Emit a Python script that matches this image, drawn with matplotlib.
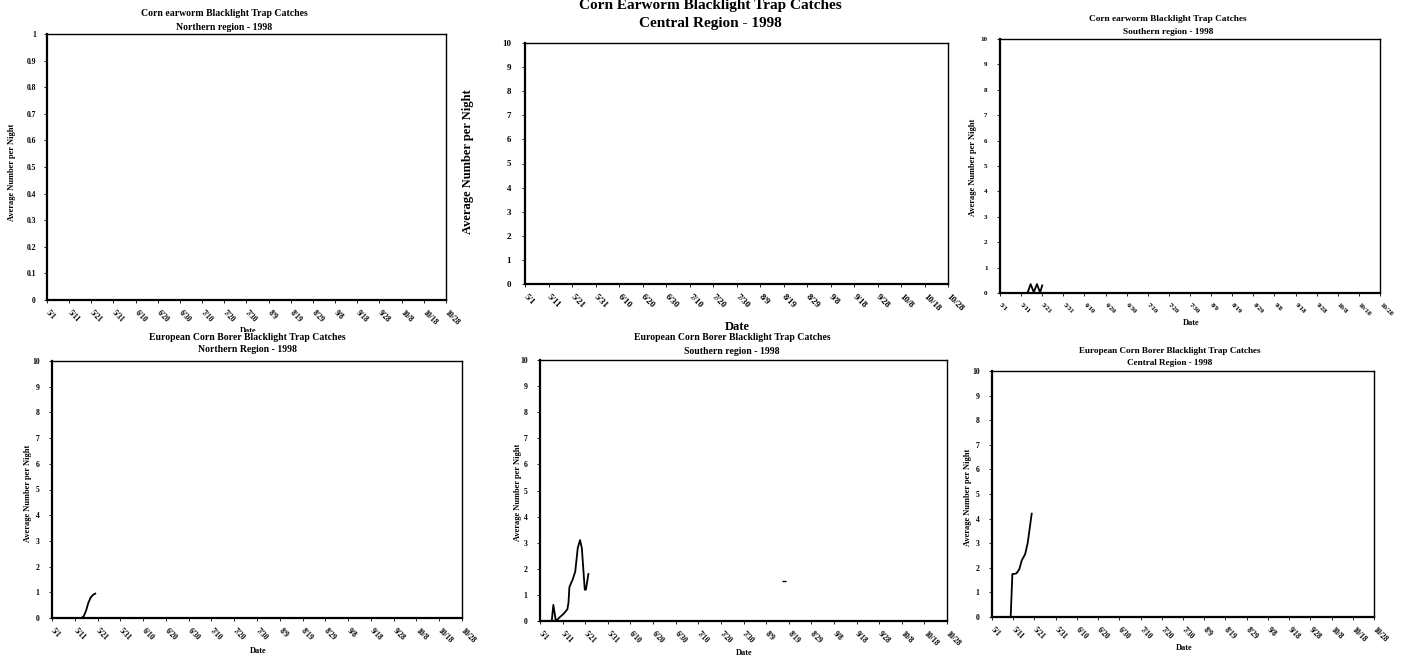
import numpy as np
import matplotlib
matplotlib.use("Agg")
import matplotlib.pyplot as plt

plt.rcParams['font.family'] = ['Liberation Serif', 'DejaVu Serif']
plt.rcParams['font.weight'] = 'bold'

W, H = 1401, 657

# x axis: days after May 1st, 1998
date_ticks = [0, 10, 20, 30, 40, 50, 60, 70, 80, 90, 100, 110, 120, 130, 140, 150, 160, 170, 180]
date_labels = ['5/1', '5/11', '5/21', '5/31', '6/10', '6/20', '6/30', '7/10', '7/20', '7/30',
               '8/9', '8/19', '8/29', '9/8', '9/18', '9/28', '10/8', '10/18', '10/28']

# corn earworm
cew_north_days = []
cew_north_vals = []
cew_central_days = []
cew_central_vals = []
cew_south_days = [13, 14.5, 16, 17.5, 19, 20]
cew_south_vals = [0, 0.35, 0.03, 0.35, 0.02, 0.3]

# european corn borer
ecb_north_days = [0, 13, 14, 15, 16, 17, 18, 19]
ecb_north_vals = [0, 0, 0.08, 0.3, 0.6, 0.8, 0.9, 0.95]
ecb_south_days = [0, 5.2, 5.9, 7, 8.8, 10.5, 12.1, 12.6, 13, 14.5, 15.6, 16.7, 17.7, 18.5, 19.8, 20.3, 21.4]
ecb_south_vals = [0, 0, 0.62, 0, 0.15, 0.28, 0.45, 0.7, 1.3, 1.6, 1.9, 2.8, 3.1, 2.8, 1.2, 1.2, 1.8]
ecb_central_days = [0, 8.8, 9.6, 10.5, 11.6, 12.9, 14.0, 15.6, 16.8, 17.6, 18.7]
ecb_central_vals = [0, 0, 1.75, 1.75, 1.78, 1.95, 2.3, 2.55, 3.0, 3.5, 4.2]
ecb_south_stray_day = [108]
ecb_south_stray_val = [1.53]

fig = plt.figure(figsize=(W / 100, H / 100), dpi=100)


def panel(box, days, vals, ymax, ystep, tkfs, ypad):
    l, t, r, b = box
    ax = fig.add_axes([l / W, 1 - b / H, (r - l) / W, (b - t) / H])
    if len(days):
        ax.plot(days, vals, color='black', lw=1.3)
    ax.set_xlim(0, 180)
    ax.set_ylim(0, ymax)
    yt = np.arange(0, ymax + ystep / 2, ystep)
    ax.set_yticks(yt)
    if ystep < 1:
        ax.set_yticklabels(['0'] + ['%g' % round(v, 1) for v in yt[1:]], fontsize=tkfs)
    else:
        ax.set_yticklabels(['%d' % v for v in yt], fontsize=tkfs)
    ax.set_xticks(date_ticks)
    ax.set_xticklabels(date_labels, fontsize=tkfs, rotation=-45, ha='left', va='center',
                       rotation_mode='anchor')
    ax.tick_params(axis='x', length=2, width=0.6, pad=6)
    ax.tick_params(axis='y', length=2, width=0.6, pad=ypad)
    for s in ax.spines.values():
        s.set_linewidth(1.0)
    ax.spines['left'].set_linewidth(1.6)
    ax.spines['bottom'].set_linewidth(1.6)
    return ax


ax1 = panel((47, 34, 446, 300), cew_north_days, cew_north_vals, 1, 0.1, 5.5, 6)
fig.text(224 / W, 1 - 14 / H, 'Corn earworm Blacklight Trap Catches', fontsize=7, ha='center', va='center')
fig.text(224 / W, 1 - 27 / H, 'Northern region - 1998', fontsize=7, ha='center', va='center')
fig.text(12 / W, 1 - 172 / H, 'Average Number per Night', fontsize=6, rotation=90, ha='center', va='center')
fig.text(248 / W, 1 - 331 / H, 'Date', fontsize=6, ha='center', va='center')

ax2 = panel((525, 43, 948, 284), cew_central_days, cew_central_vals, 10, 1, 6.5, 8)
fig.text(710 / W, 1 - 6 / H, 'Corn Earworm Blacklight Trap Catches', fontsize=11, ha='center', va='center')
fig.text(710 / W, 1 - 23 / H, 'Central Region - 1998', fontsize=11, ha='center', va='center')
fig.text(468 / W, 1 - 162 / H, 'Average Number per Night', fontsize=9, rotation=90, ha='center', va='center')
fig.text(737 / W, 1 - 327 / H, 'Date', fontsize=9, ha='center', va='center')

ax3 = panel((1000, 39, 1380, 293), cew_south_days, cew_south_vals, 10, 1, 5, 7)
fig.text(1168 / W, 1 - 19 / H, 'Corn earworm Blacklight Trap Catches', fontsize=6.7, ha='center', va='center')
fig.text(1168 / W, 1 - 32 / H, 'Southern region - 1998', fontsize=6.7, ha='center', va='center')
fig.text(973 / W, 1 - 167 / H, 'Average Number per Night', fontsize=6, rotation=90, ha='center', va='center')
fig.text(1191 / W, 1 - 323 / H, 'Date', fontsize=6, ha='center', va='center')

ax4 = panel((52, 361, 462, 618), ecb_north_days, ecb_north_vals, 10, 1, 5.5, 7)
fig.text(247 / W, 1 - 337 / H, 'European Corn Borer Blacklight Trap Catches', fontsize=7, ha='center',
         va='center', bbox=dict(facecolor='white', edgecolor='none', pad=0.5))
fig.text(247 / W, 1 - 349 / H, 'Northern Region - 1998', fontsize=7, ha='center', va='center')
fig.text(28 / W, 1 - 493 / H, 'Average Number per Night', fontsize=6, rotation=90, ha='center', va='center')
fig.text(258 / W, 1 - 651 / H, 'Date', fontsize=6, ha='center', va='center')

ax5 = panel((540, 360, 947, 621), ecb_south_days, ecb_south_vals, 10, 1, 5.5, 7)
ax5.plot(ecb_south_stray_day, ecb_south_stray_val, marker='_', color='black', ms=3, lw=0)
fig.text(732 / W, 1 - 338 / H, 'European Corn Borer Blacklight Trap Catches', fontsize=7, ha='center',
         va='center', bbox=dict(facecolor='white', edgecolor='none', pad=0.5))
fig.text(732 / W, 1 - 351 / H, 'Southern region - 1998', fontsize=7, ha='center', va='center')
fig.text(518 / W, 1 - 492 / H, 'Average Number per Night', fontsize=6, rotation=90, ha='center', va='center')
fig.text(744 / W, 1 - 653 / H, 'Date', fontsize=6, ha='center', va='center')

ax6 = panel((992, 371, 1374, 617), ecb_central_days, ecb_central_vals, 10, 1, 5.5, 7)
fig.text(1170 / W, 1 - 351 / H, 'European Corn Borer Blacklight Trap Catches', fontsize=6.6, ha='center', va='center')
fig.text(1170 / W, 1 - 363 / H, 'Central Region - 1998', fontsize=6.6, ha='center', va='center')
fig.text(968 / W, 1 - 497 / H, 'Average Number per Night', fontsize=6, rotation=90, ha='center', va='center')
fig.text(1184 / W, 1 - 648 / H, 'Date', fontsize=6, ha='center', va='center')

fig.savefig('out.png', dpi=100)
